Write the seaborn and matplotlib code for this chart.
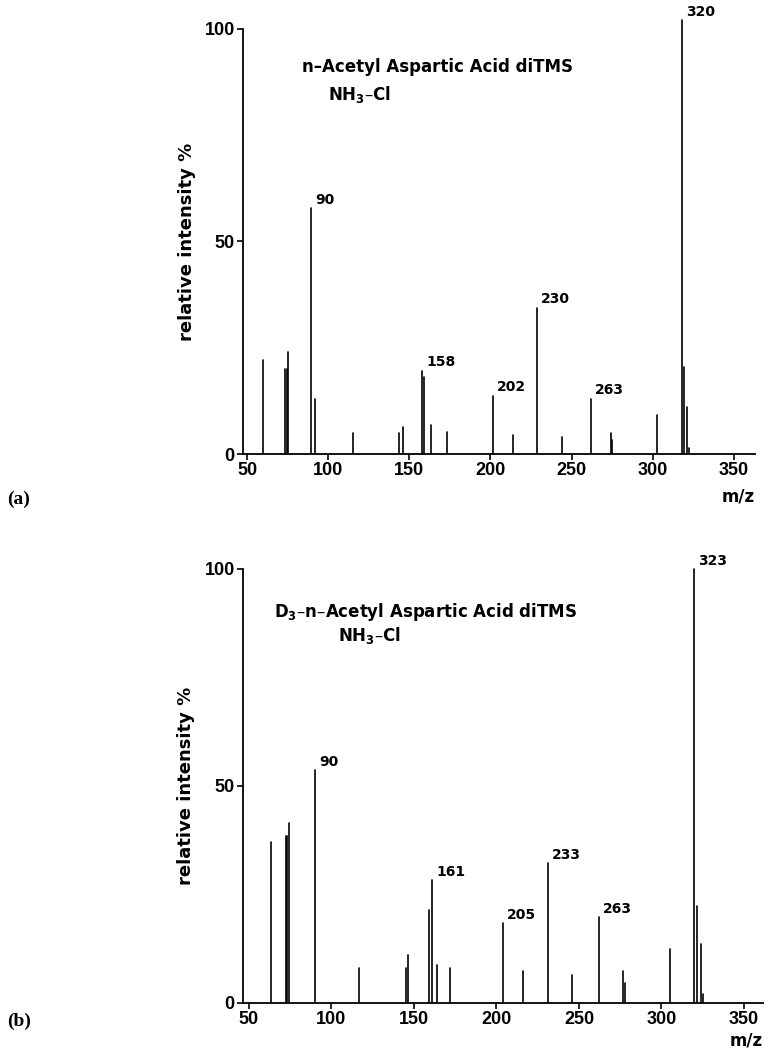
import numpy as np
import pandas as pd
import matplotlib
matplotlib.use("Agg")
import matplotlib.pyplot as plt
import seaborn as sns

sns.set_style("ticks")
plt.rcParams["font.family"] = ["DejaVu Sans"]
plt.rcParams["mathtext.default"] = "bf"
for key in ["text.color", "axes.labelcolor", "xtick.color", "ytick.color",
            "axes.edgecolor"]:
    plt.rcParams[key] = "black"

# --- (a) n-Acetyl Aspartic Acid diTMS, NH3-CI -------------------------
mz_a = [59.9, 73.4, 74.6, 75.3, 89.4, 91.9, 115.3, 143.7, 146.1, 157.8, 159.1,
        163.4, 173.2, 201.6, 213.9, 228.7, 244.1, 262.0, 274.3, 274.9, 302.6,
        318.0, 319.3, 321.1, 322.3]
int_a = [22, 20, 20, 24, 57.8, 13, 5, 5, 6.4, 19.6, 18,
         6.8, 5.2, 13.7, 4.5, 34.4, 4, 13, 5, 3.3, 9.2,
         102, 20.5, 11, 1.5]
lab_pos_a = [89.4, 157.8, 201.6, 228.7, 262.0, 318.0]
lab_int_a = [57.8, 19.6, 13.7, 34.4, 13, 102]
lab_txt_a = ["90", "158", "202", "230", "263", "320"]

# --- (b) D3-n-Acetyl Aspartic Acid diTMS, NH3-CI ----------------------
mz_b = [63.3, 72.4, 73.0, 74.2, 90.0, 116.7, 145.0, 146.4, 159.0, 161.0,
        164.0, 171.8, 204.0, 216.0, 231.0, 245.8, 262.0, 276.7, 278.0, 305.0,
        319.7, 321.5, 323.9, 325.0]
int_b = [37, 38.5, 38.5, 41.5, 53.7, 8, 8, 11, 21.4, 28.3,
         8.8, 8, 18.4, 7.4, 32.2, 6.5, 19.8, 7.4, 4.6, 12.4,
         100, 22.4, 13.6, 2]
lab_pos_b = [90.0, 161.0, 204.0, 231.0, 262.0, 319.7]
lab_int_b = [53.7, 28.3, 18.4, 32.2, 19.8, 100]
lab_txt_b = ["90", "161", "205", "233", "263", "323"]

x_ticks = [50, 100, 150, 200, 250, 300, 350]
y_ticks = [0, 50, 100]


def sticks(mz, inten):
    """Jeder Peak als Linie von 0 bis zur Intensität."""
    n = len(mz)
    return pd.DataFrame({
        "mz": np.repeat(mz, 2),
        "intensity": np.ravel(np.column_stack([np.zeros(n), inten])),
        "peak": np.repeat(np.arange(n), 2),
    })


def draw_panel(ax, mz, inten, lab_pos, lab_int, lab_txt, xlim, title, ion,
               title_xy, ion_xy, mz_y):
    sns.lineplot(data=sticks(mz, inten), x="mz", y="intensity", units="peak",
                 estimator=None, sort=False, color="black", lw=1.2, ax=ax,
                 legend=False)
    for x, y, t in zip(lab_pos, lab_int, lab_txt):
        ax.annotate(t, (x, y), xytext=(3, 1), textcoords="offset points",
                    ha="left", va="bottom", fontsize=10, fontweight="bold")
    ax.set_xlim(*xlim)
    ax.set_ylim(0, 103)
    ax.set_xticks(x_ticks)
    ax.set_yticks(y_ticks)
    for lbl in ax.get_xticklabels() + ax.get_yticklabels():
        lbl.set_fontweight("bold")
        lbl.set_fontfamily(["Liberation Sans"])
        lbl.set_fontsize(13)
    ax.tick_params(axis="both", length=4, width=1.2, pad=2)
    sns.despine(ax=ax)
    ax.spines["left"].set_bounds(0, 100)
    ax.spines["left"].set_linewidth(1.3)
    ax.spines["bottom"].set_linewidth(1.3)
    ax.set_xlabel("")
    ax.set_ylabel("relative intensity %", fontsize=13, fontweight="bold")
    ax.yaxis.set_label_coords(-0.092, 0.485)
    ax.text(*title_xy, title, transform=ax.transAxes, fontsize=12,
            fontweight="bold", ha="left", va="baseline")
    ax.text(*ion_xy, ion, transform=ax.transAxes, fontsize=12,
            fontweight="bold", ha="left", va="baseline")
    ax.text(1.0, mz_y, "m/z", transform=ax.transAxes, fontsize=12,
            fontweight="bold", ha="right", va="center")


fig = plt.figure(figsize=(7.8, 10.51), dpi=100)
ax_a = fig.add_axes([0.3115, 0.568, 0.6564, 0.4168])
ax_b = fig.add_axes([0.3115, 0.0457, 0.6667, 0.4253])

draw_panel(ax_a, mz_a, int_a, lab_pos_a, lab_int_a, lab_txt_a,
           (47.5, 363), "n–Acetyl Aspartic Acid diTMS", "NH$_3$–Cl",
           (0.115, 0.872), (0.166, 0.808), -0.098)
draw_panel(ax_b, mz_b, int_b, lab_pos_b, lab_int_b, lab_txt_b,
           (46.4, 361.5), "D$_3$–n–Acetyl Aspartic Acid diTMS", "NH$_3$–Cl",
           (0.06, 0.864), (0.183, 0.810), -0.083)

fig.text(0.009, 0.525, "(a)", fontsize=14, fontweight="bold",
         family=["Liberation Serif"], va="center")
fig.text(0.009, 0.028, "(b)", fontsize=14, fontweight="bold",
         family=["Liberation Serif"], va="center")

fig.savefig("out.png", dpi=100)
plt.close(fig)
